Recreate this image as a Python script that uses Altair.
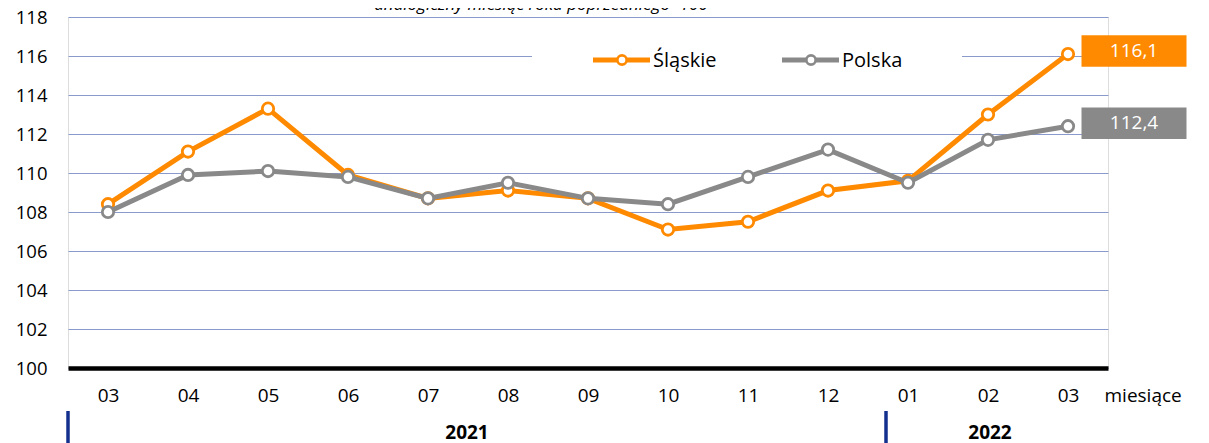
import altair as alt
import pandas as pd

# ---- data ----
miesiace = ["03", "04", "05", "06", "07", "08", "09", "10", "11", "12", "01", "02", "03"]
lata = ["2021"] * 10 + ["2022"] * 3
slaskie = [108.4, 111.1, 113.3, 109.9, 108.7, 109.1, 108.7, 107.1, 107.5, 109.1, 109.6, 113.0, 116.1]
polska = [108.0, 109.9, 110.1, 109.8, 108.7, 109.5, 108.7, 108.4, 109.8, 111.2, 109.5, 111.7, 112.4]
serie = ["Śląskie", "Polska"]
y_ticks = [100, 102, 104, 106, 108, 110, 112, 114, 116, 118]

ORANGE = "#FF8A00"
GRAY = "#898989"
GRID = "#8A9BCB"
NAVY = "#14308F"
FONT = "Open Sans"
colors = {"Śląskie": ORANGE, "Polska": GRAY}

okresy = [f"{r}-{m}" for r, m in zip(lata, miesiace)]
rows = []
for name, vals in zip(serie, [slaskie, polska]):
    for i, (k, v) in enumerate(zip(okresy, vals)):
        rows.append({"okres": k, "seria": name, "wartosc": v,
                     "ostatni": i == len(okresy) - 1,
                     "etykieta": f"{v:.1f}".replace(".", ",")})
df = pd.DataFrame(rows)

color_scale = alt.Scale(domain=serie, range=[ORANGE, GRAY])

x_enc = alt.X("okres:N", sort=okresy, scale=alt.Scale(domain=okresy),
              axis=alt.Axis(labelExpr="slice(datum.value, 5)", title="miesiące",
                            titleX=1036, titleY=27, titleAlign="left", titleBaseline="middle",
                            titleFont=FONT, titleFontSize=19, titleFontWeight="normal",
                            titleColor="black", labelFont=FONT, labelFontSize=19,
                            labelColor="black", labelAngle=0, labelBaseline="middle",
                            labelPadding=27, ticks=False, tickSize=0,
                            domainColor="black", domainWidth=4.5, grid=False))
y_enc = alt.Y("wartosc:Q", scale=alt.Scale(domain=[100, 118], nice=False, zero=False),
              axis=alt.Axis(values=y_ticks, title=None, labelFont=FONT, labelFontSize=18.5,
                            labelColor="black", labelPadding=21, ticks=False, tickSize=0,
                            domain=False, grid=True, gridColor=GRID, gridWidth=1.2))

base = alt.Chart(df)
one = pd.DataFrame({"a": [0]})

bg = alt.Chart(one).mark_rect(color="white").encode(
    x=alt.value(464), x2=alt.value(894), y=alt.value(22), y2=alt.value(60))

def series_layers(name):
    d = base.transform_filter(alt.datum.seria == name)
    line = d.mark_line(strokeWidth=5).encode(
        x=x_enc, y=y_enc,
        color=alt.Color("seria:N", scale=color_scale, legend=None))
    pts = d.mark_point(filled=False, fill="white", size=130, strokeWidth=2.8, opacity=1).encode(
        x=x_enc, y=y_enc, color=alt.Color("seria:N", scale=color_scale, legend=None))
    return [line, pts]

# manual legend (line + open circle + label), as in the reference
def legend_entry(name, x0):
    c = colors[name]
    seg = alt.Chart(one).mark_rule(color=c, strokeWidth=5).encode(
        x=alt.value(x0), x2=alt.value(x0 + 57), y=alt.value(43))
    dot = alt.Chart(one).mark_point(filled=False, fill="white", color=c, size=85,
                                    strokeWidth=2.6, opacity=1).encode(
        x=alt.value(x0 + 29), y=alt.value(43))
    lab = alt.Chart(one).mark_text(text=name, font=FONT, fontSize=20, color="black",
                                   align="left", baseline="middle").encode(
        x=alt.value(x0 + 60), y=alt.value(44))
    return [seg, dot, lab]

last = base.transform_filter(alt.datum.ostatni)
boxes = last.mark_point(shape="M-1,-0.3H1V0.3H-1Z", size=11025, filled=True, opacity=1,
                        xOffset=66, yOffset=-3).encode(
    x=x_enc, y=y_enc, color=alt.Color("seria:N", scale=color_scale, legend=None))
box_text = last.mark_text(color="white", font=FONT, fontSize=19, dx=66, dy=-3,
                          baseline="middle", align="center").encode(
    x=x_enc, y=y_enc, text="etykieta:N")

sep1 = alt.Chart(one).mark_rule(color=NAVY, strokeWidth=3.5).encode(
    x=alt.value(0), y=alt.value(394), y2=alt.value(440))
sep2 = alt.Chart(one).mark_rule(color=NAVY, strokeWidth=3.5).encode(
    x=alt.value(818), y=alt.value(394), y2=alt.value(440))
yr1 = alt.Chart(one).mark_text(text="2021", font=FONT, fontSize=19, fontWeight="bold",
                               color="black", baseline="middle").encode(
    x=alt.value(399), y=alt.value(416))
yr2 = alt.Chart(one).mark_text(text="2022", font=FONT, fontSize=19, fontWeight="bold",
                               color="black", baseline="middle").encode(
    x=alt.value(922), y=alt.value(416))
subtitle = alt.Chart(one).mark_text(text="analogiczny miesiąc roku poprzedniego=100",
                                    font=FONT, fontSize=17, fontStyle="italic",
                                    color="black", baseline="alphabetic").encode(
    x=alt.value(473), y=alt.value(-7))

chart = alt.layer(
    bg, *series_layers("Śląskie"), *series_layers("Polska"),
    *legend_entry("Śląskie", 525), *legend_entry("Polska", 714),
    boxes, box_text, sep1, sep2, yr1, yr2, subtitle
).properties(
    width=1040, height=351,
    autosize=alt.AutoSizeParams(type="none"),
    padding={"left": 60, "top": 9, "right": 85, "bottom": 80},
).configure_view(stroke=None).configure(background="white")

chart.save("out.html", embed_options={"renderer": "svg", "actions": False})
